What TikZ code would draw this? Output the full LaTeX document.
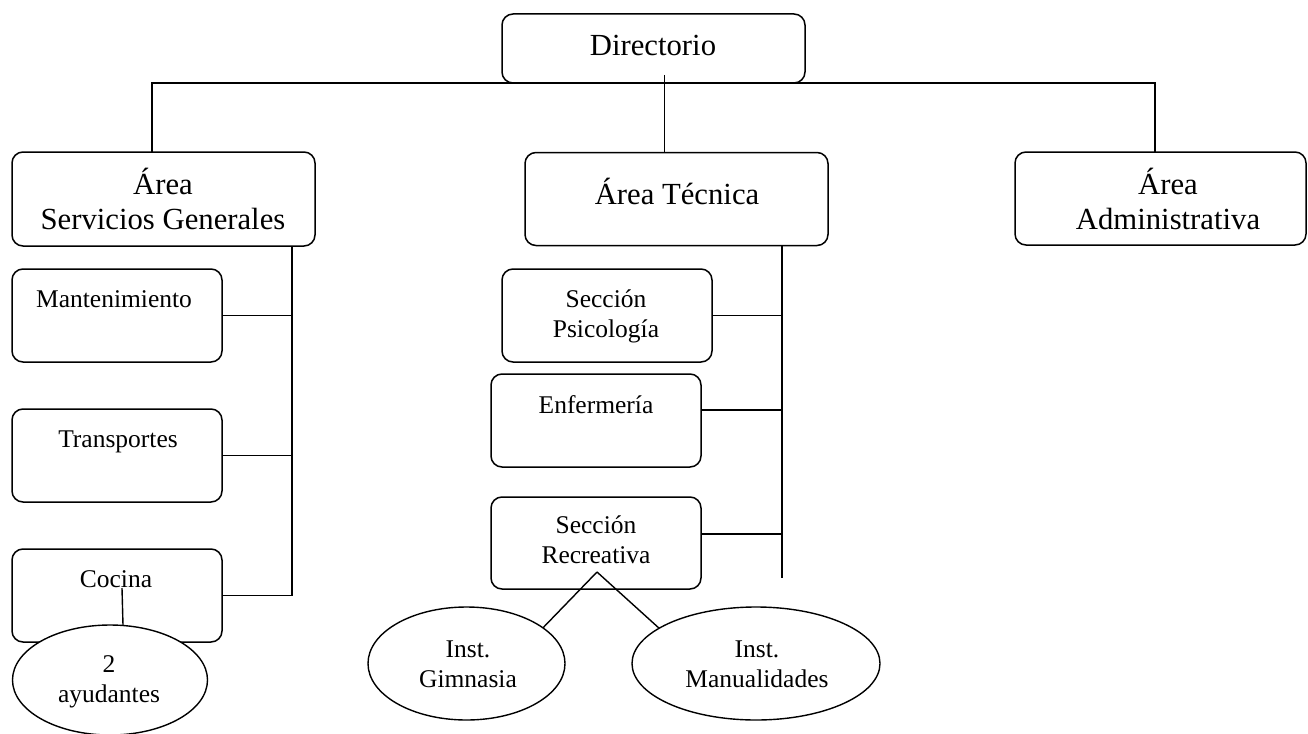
\documentclass[tikz,border=0pt]{standalone}
\usepackage{fontspec}
\setmainfont{Liberation Serif}
\usetikzlibrary{shapes.geometric}
\begin{document}
\begin{tikzpicture}[x=1pt,y=-1pt,
  box/.style={draw, line width=1.5pt, rounded corners=11pt, inner sep=0pt, outer sep=0pt, fill=white},
  oval/.style={draw, line width=1.4pt, ellipse, inner sep=0pt, outer sep=0pt, fill=white},
  big/.style={font=\fontsize{30.7}{35}\selectfont, align=center, anchor=base, inner sep=0pt},
  small/.style={font=\fontsize{25.5}{30}\selectfont, align=center, anchor=base, inner sep=0pt},
  conn/.style={draw, line width=1.4pt}]
\useasboundingbox (0,0) rectangle (1308,733);
% boxes
\node[box, minimum width=303pt, minimum height=69pt] (dir) at (653.5,48.5) {};
\node[box, minimum width=303pt, minimum height=94pt] (sg) at (163.5,199) {};
\node[box, minimum width=303pt, minimum height=93pt] (tec) at (676.5,199) {};
\node[box, minimum width=291pt, minimum height=93pt] (adm) at (1160.5,198.5) {};
\node[box, minimum width=210pt, minimum height=93pt] (mant) at (117,315.5) {};
\node[box, minimum width=210pt, minimum height=93pt] (trans) at (117,455.5) {};
\node[box, minimum width=210pt, minimum height=93pt] (coc) at (117,595.5) {};
\node[box, minimum width=210pt, minimum height=93pt] (psi) at (607,315.5) {};
\node[box, minimum width=210pt, minimum height=93pt] (enf) at (596,420.5) {};
\node[box, minimum width=210pt, minimum height=92pt] (rec) at (596,543) {};
% texts (anchor=base is the baseline of the last line)
\node[big] (tdir) at (653,56) {Directorio};
\node[big] (tsg) at (163,229) {Área\\Servicios Generales};
\node[big] (ttec) at (677,204) {Área Técnica};
\node[big] (tadm) at (1168,229) {Área\\Administrativa};
\node[small] (tmant) at (114,307) {Mantenimiento};
\node[small] (ttrans) at (118,447) {Transportes};
\node[small] (tcoc) at (116,587) {Cocina};
\node[small] (tpsi) at (606,337) {Sección\\Psicología};
\node[small] (tenf) at (596,413) {Enfermería};
\node[small] (trec) at (596,563) {Sección\\Recreativa};
% connectors top
\coordinate (sgtop) at ([xshift=-11.5pt]sg.north);
\coordinate (admtop) at ([xshift=-5.5pt]adm.north);
\draw[conn] (sgtop) |- (admtop |- dir.south) -- (admtop);
\coordinate (dirdown) at ([xshift=11pt,yshift=8pt]dir.south);
\draw[conn] (dirdown) -- (dirdown |- tec.north);
% left column
\coordinate (sgb) at ([xshift=128.5pt]sg.south);
\draw[conn] (sgb) |- (coc.east);
\draw[conn] (mant.east) -- (mant.east -| sgb);
\draw[conn] (trans.east) -- (trans.east -| sgb);
% middle column
\coordinate (tb) at ([xshift=105.5pt]tec.south);
\coordinate (tend) at (782,578);
\draw[conn] (tb) -- (tend);
\draw[conn] (psi.east) -- (psi.east -| tb);
\draw[conn] ([yshift=10.5pt]enf.east) -- ([yshift=10.5pt]enf.east -| tb);
\draw[conn] ([yshift=9pt]rec.east) -- ([yshift=9pt]rec.east -| tb);
% ovals
\coordinate (cocdown) at ([xshift=5pt,yshift=54pt]coc.south);
\node[oval, minimum width=195pt, minimum height=110pt] (ay) at (110,680) {};
\node[small] (tay) at (109,702) {2\\ayudantes};
\draw[conn] (cocdown) -- ([xshift=13pt]ay.north);
\coordinate (apex) at ([xshift=1pt,yshift=17pt]rec.south);
\node[oval, minimum width=197pt, minimum height=113pt] (gim) at (466.5,663.5) {};
\node[oval, minimum width=248pt, minimum height=113pt] (man) at (756,663.5) {};
\node[small] (tgim) at (468,687) {Inst.\\Gimnasia};
\node[small] (tman) at (757,687) {Inst.\\Manualidades};
\draw[conn] (apex) -- (gim.25);
\draw[conn] (apex) -- (man.160);
\end{tikzpicture}
\end{document}
